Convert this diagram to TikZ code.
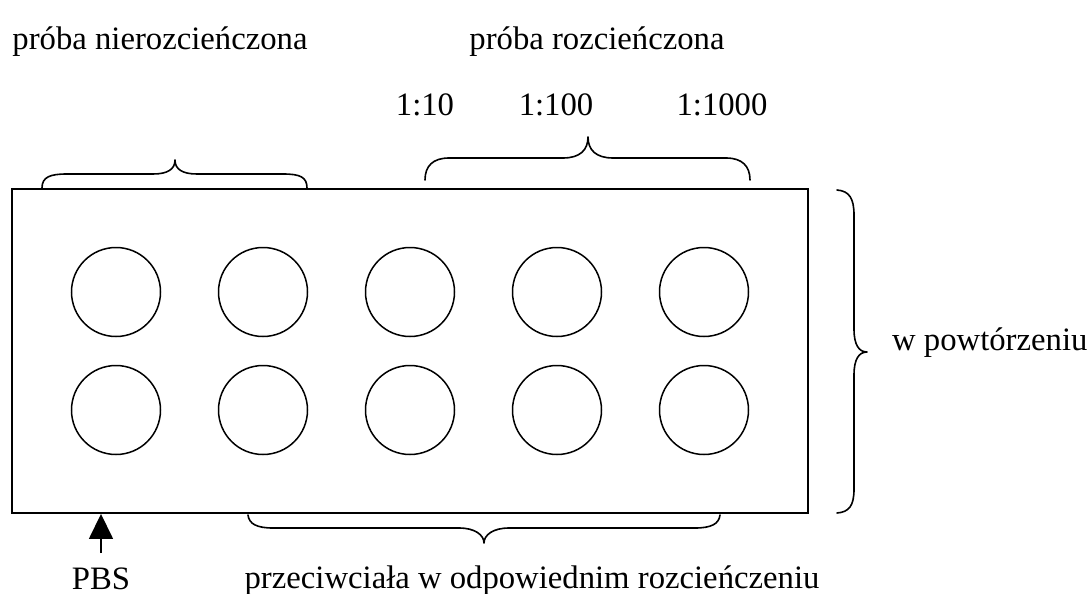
\documentclass[tikz,border=0pt]{standalone}
\usepackage{fontspec}
\setmainfont{Liberation Serif}
\usetikzlibrary{arrows.meta}
\begin{document}
\begin{tikzpicture}[x=1pt,y=-1pt,
  lbl/.style={font=\fontsize{32.7}{39}\selectfont, inner sep=0pt, anchor=base},
  well/.style={draw, circle, line width=1.5pt, minimum size=89pt, inner sep=0pt},
  platebox/.style={draw, line width=1.9pt, minimum width=796pt, minimum height=324pt, inner sep=0pt},
  bracepath/.style={line width=1.6pt, line cap=round, line join=round},
  pointer/.style={line width=1.6pt, -{Triangle[length=25pt,width=24pt]}}]
\useasboundingbox (0,0) rectangle (1087,594);

% plate
\node[platebox] (plate) at (410,351) {};

% wells
\foreach \c/\x in {1/116,2/263,3/410,4/557,5/704}{
  \node[well] (a\c) at (\x,292) {};
  \node[well] (b\c) at (\x,410) {};
}

% labels
\node[lbl] (undil) at (160,50) {próba nierozcieńczona};
\node[lbl] (dil) at (597,50) {próba rozcieńczona};
\node[lbl] (d10) at (425,115) {1:10};
\node[lbl] (d100) at (556,115) {1:100};
\node[lbl] (d1000) at (722,115) {1:1000};
\node[lbl, anchor=base west] (rep) at (892,350) {w powtórzeniu};
\node[lbl] (pbs) at (101,589) {PBS};
\node[lbl] (ab) at (532,588) {przeciwciała w odpowiednim rozcieńczeniu};

% top-left brace
\draw[bracepath] (42,188) .. controls (42,177) and (50,174) .. (67,174) -- (153,174)
  .. controls (168,174) and (175,169) .. (175,160)
  .. controls (175,169) and (182,174) .. (197,174) -- (283,174)
  .. controls (300,174) and (307,177) .. (307,188);

% top-right brace
\draw[bracepath] (425,180) .. controls (425,166) and (433,158) .. (449,158) -- (563,158)
  .. controls (580,158) and (588,150) .. (588,137)
  .. controls (588,150) and (596,158) .. (613,158) -- (726,158)
  .. controls (742,158) and (750,166) .. (750,180);

% bottom brace
\draw[bracepath] (248,515) .. controls (249,524) and (257,528) .. (273,528) -- (459,528)
  .. controls (475,528) and (484,535) .. (484,543)
  .. controls (484,535) and (493,528) .. (509,528) -- (695,528)
  .. controls (711,528) and (719,524) .. (720,515);

% right brace
\draw[bracepath] (837,190) .. controls (849,191) and (854,198) .. (854,215) -- (854,329)
  .. controls (854,345) and (859,352) .. (867,352)
  .. controls (859,352) and (854,359) .. (854,375) -- (854,489)
  .. controls (854,506) and (849,512) .. (837,513);

% PBS arrow
\coordinate (pbsfoot) at (pbs.north |- 0,553);
\draw[pointer] (pbsfoot) -- (pbs.north |- plate.south);
\end{tikzpicture}
\end{document}
